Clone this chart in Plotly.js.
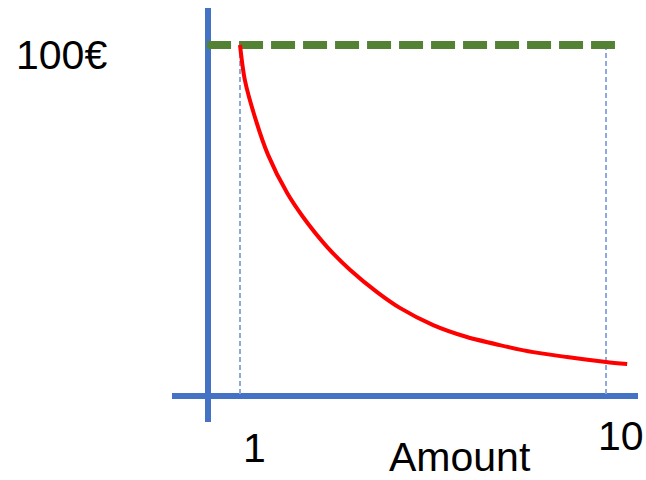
<!DOCTYPE html>
<html>
<head>
<meta charset="utf-8">
<script src="https://cdn.plot.ly/plotly-3.0.1.min.js"></script>
<style>html,body{margin:0;padding:0;background:#fff;}#chart{width:646px;height:480px;}</style>
</head>
<body>
<div id="chart"></div>
<script>
// Red curve: price per unit vs amount
const amountX = [1.0, 1.12, 1.39, 1.69, 2.16, 2.55, 3.14, 3.71, 4.37, 4.93, 5.75, 6.58, 7.39, 8.21, 9.04, 10.0, 10.52];
const priceY  = [100, 90.0, 78.6, 68.7, 57.8, 51.0, 42.5, 35.9, 29.6, 25.1, 20.2, 16.8, 14.5, 12.5, 11.1, 9.7, 9.1];
// Green dashed constant price line
const flatX = [0.19, 10.22];
const flatY = [100, 100];
// Thin guide lines at the marked amounts
const guideAmounts = [1, 10];
const guideTop = 100;
const guideBottom = 0;
// Labels
const tickLabels = ["1", "10"];
const priceLabel = "100€";
const xLabel = "Amount";

const W = 646, H = 480;
const FONT = "Liberation Sans, Arial, sans-serif";

const traces = [];
guideAmounts.forEach(a => {
  traces.push({x: [a, a], y: [guideTop, guideBottom], mode: 'lines', type: 'scatter',
    line: {color: '#8eaadb', width: 2, dash: '5px,3px'}, hoverinfo: 'skip', showlegend: false});
});
traces.push({x: flatX, y: flatY, mode: 'lines', type: 'scatter',
  line: {color: '#548235', width: 8, dash: '24px,8px'}, hoverinfo: 'skip', showlegend: false});
traces.push({x: amountX, y: priceY, mode: 'lines', type: 'scatter',
  line: {color: '#ff0000', width: 4, shape: 'spline', smoothing: 0.8}, hoverinfo: 'skip', showlegend: false});

const px = v => v / W, py = v => 1 - v / H;

const layout = {
  width: W, height: H,
  margin: {l: 0, r: 0, t: 0, b: 0, pad: 0},
  paper_bgcolor: '#fff', plot_bgcolor: '#fff',
  showlegend: false,
  xaxis: {visible: false, range: [-4.901, 10.983], fixedrange: true},
  yaxis: {visible: false, range: [-23.93, 112.82], fixedrange: true},
  shapes: [
    {type: 'line', xref: 'paper', yref: 'paper', x0: px(208), x1: px(208), y0: py(8), y1: py(422),
     line: {color: '#4472c4', width: 6}, layer: 'below'},
    {type: 'line', xref: 'paper', yref: 'paper', x0: px(172), x1: px(638), y0: py(396), y1: py(396),
     line: {color: '#4472c4', width: 6}, layer: 'below'}
  ],
  annotations: [
    {text: priceLabel, xref: 'paper', yref: 'paper', x: px(61.5), y: py(55), xanchor: 'center', yanchor: 'middle',
     showarrow: false, font: {family: FONT, size: 41, color: '#000'}},
    {text: tickLabels[0], xref: 'x', yref: 'paper', x: guideAmounts[0], xshift: 15, y: py(448), xanchor: 'center', yanchor: 'middle',
     showarrow: false, font: {family: FONT, size: 41, color: '#000'}},
    {text: tickLabels[1], xref: 'x', yref: 'paper', x: guideAmounts[1], xshift: 15, y: py(436), xanchor: 'center', yanchor: 'middle',
     showarrow: false, font: {family: FONT, size: 41, color: '#000'}},
    {text: xLabel, xref: 'paper', yref: 'paper', x: px(460), y: py(456.5), xanchor: 'center', yanchor: 'middle',
     showarrow: false, font: {family: FONT, size: 41, color: '#000'}}
  ]
};

Plotly.newPlot('chart', traces, layout, {displayModeBar: false, staticPlot: true});
</script>
</body>
</html>
